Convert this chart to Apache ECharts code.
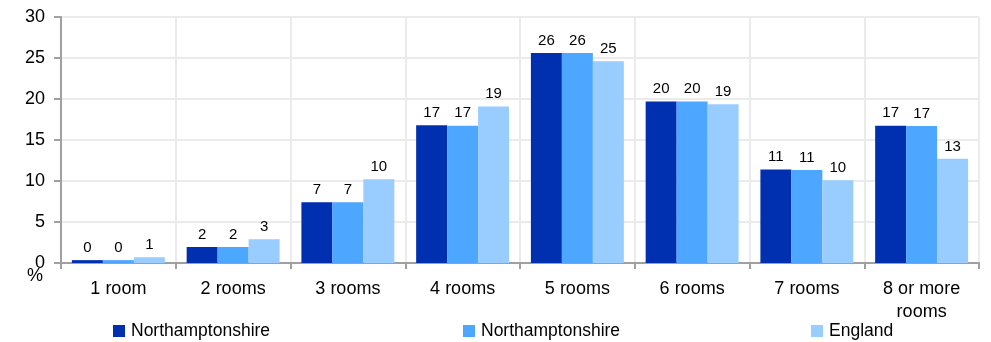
<!DOCTYPE html>
<html><head><meta charset="utf-8">
<script src="https://cdn.jsdelivr.net/npm/echarts@6/dist/echarts.min.js"></script>
<style>html,body{margin:0;padding:0;background:#fff}#c{width:991px;height:342px}</style>
</head><body><div id="c"></div>
<script>
const categories = ['1 room','2 rooms','3 rooms','4 rooms','5 rooms','6 rooms','7 rooms','8 or more\nrooms'];
const northants1 = [0.35, 1.95, 7.4, 16.8, 25.6, 19.7, 11.4, 16.75];
const northants2 = [0.35, 1.95, 7.4, 16.75, 25.6, 19.7, 11.35, 16.7];
const england = [0.7, 2.9, 10.2, 19.1, 24.6, 19.35, 10.1, 12.7];
const seriesNames = ['Northamptonshire', 'Northamptonshire ', 'England'];
const colors = ['#0030b0', '#4da6ff', '#99ccff'];
const yTicks = {min: 0, max: 30, interval: 5};

const font = 'Liberation Sans, Arial, sans-serif';
const chart = echarts.init(document.getElementById('c'));
const mk = (name, data, color) => ({
  name, type: 'bar', data, barGap: '0%', barCategoryGap: '19%',
  itemStyle: {color},
  label: {show: true, position: 'top', distance: 5, color: '#000', fontFamily: font, fontSize: 15,
    formatter: p => Math.round(p.value)}
});
const legendBase = {bottom: 2, padding: 0, itemWidth: 12, itemHeight: 12, itemGap: 6, icon: 'rect',
  textStyle: {fontFamily: font, fontSize: 17.5, color: '#000', padding: [0, 0, 0, 1]}};
chart.setOption({
  animation: false,
  grid: {left: 61, right: 12, top: 17, bottom: 79},
  legend: [
    Object.assign({}, legendBase, {left: 113, data: [seriesNames[0]]}),
    Object.assign({}, legendBase, {left: 463, data: [seriesNames[1]]}),
    Object.assign({}, legendBase, {left: 811, data: [seriesNames[2]]})
  ],
  xAxis: {type: 'category', data: categories,
    axisLine: {lineStyle: {color: '#a0a0a0', width: 2}},
    axisTick: {show: true, length: 6, lineStyle: {color: '#a0a0a0', width: 2}},
    splitLine: {show: true, lineStyle: {color: '#ebebeb', width: 2}},
    axisLabel: {fontFamily: font, fontSize: 18, color: '#000', margin: 15, lineHeight: 23}},
  yAxis: {type: 'value', min: yTicks.min, max: yTicks.max, interval: yTicks.interval,
    axisLine: {show: true, lineStyle: {color: '#a0a0a0', width: 2}},
    axisTick: {show: true, length: 7, lineStyle: {color: '#a0a0a0', width: 2}},
    splitLine: {lineStyle: {color: '#ebebeb', width: 2}},
    axisLabel: {fontFamily: font, fontSize: 18, color: '#000', margin: 16}},
  graphic: [{type: 'text', left: 27, top: 267, style: {text: '%', fontFamily: font, fontSize: 18, fill: '#000'}}],
  series: [mk(seriesNames[0], northants1, colors[0]), mk(seriesNames[1], northants2, colors[1]), mk(seriesNames[2], england, colors[2])]
});
</script></body></html>
